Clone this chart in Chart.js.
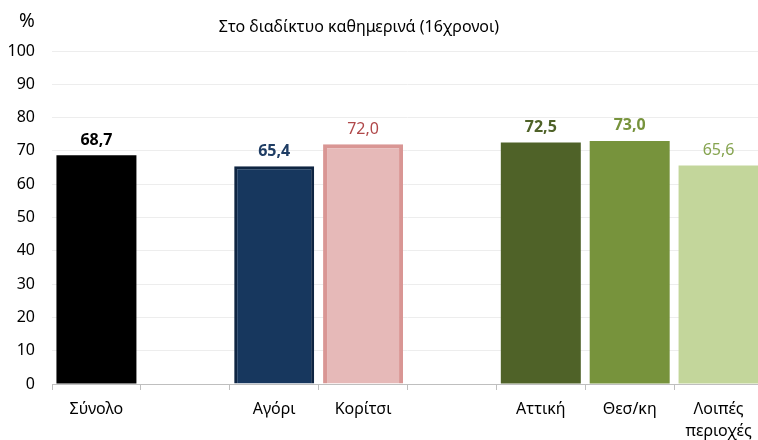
<!DOCTYPE html>
<html>
<head>
<meta charset="utf-8">
<script src="https://cdn.jsdelivr.net/npm/chart.js@4"></script>
<style>
  html, body { margin: 0; padding: 0; overflow: hidden; background: #fff; }
  #wrap { width: 763px; height: 440px; }
</style>
</head>
<body>
<div id="wrap"><canvas id="bar-chart" width="763" height="440"></canvas></div>
<script>
// Categories (empty strings are the gaps between groups)
const categories = ['Σύνολο', '', 'Αγόρι', 'Κορίτσι', '', 'Αττική', 'Θεσ/κη', ['Λοιπές', 'περιοχές']];
// Percent online daily (16 year olds)
const values = [68.7, null, 65.4, 72.0, null, 72.5, 73.0, 65.6];
const yTicks = [0, 10, 20, 30, 40, 50, 60, 70, 80, 90, 100];

const fillColors = ['#000000', null, '#17375e', '#e6b9b8', null, '#4f6228', '#77933c', '#c3d69b'];
const borderColors = ['#000000', null, '#0f2542', '#d99694', null, '#4f6228', '#77933c', '#c3d69b'];
const borderWidths = [0, 0, 3, 4, 0, 0, 0, 0];
const labelColors = ['#000000', null, '#1f3d64', '#b0484a', null, '#4f6228', '#77933c', '#86a450'];
const labelBold = [true, false, true, false, false, true, true, false];

const FONT = "'Noto Sans', 'Open Sans', sans-serif";

// value labels over the bars + title + % sign
const extras = {
    id: 'extras',
    afterDatasetsDraw(chart) {
        const ctx = chart.ctx;
        const meta = chart.getDatasetMeta(0);
        ctx.save();
        ctx.textAlign = 'center';
        ctx.textBaseline = 'middle';
        meta.data.forEach((bar, i) => {
            if (values[i] == null) return;
            ctx.font = (labelBold[i] ? 'bold ' : '') + '16px ' + FONT;
            ctx.fillStyle = labelColors[i];
            ctx.fillText(values[i].toFixed(1).replace('.', ','), bar.x, bar.y - 15);
        });
        ctx.font = '16px ' + FONT;
        ctx.fillStyle = '#000';
        ctx.fillText('Στο διαδίκτυο καθημερινά (16χρονοι)', 359, 27);
        ctx.font = '19px ' + FONT;
        ctx.fillText('%', 27, 22);
        ctx.restore();
    }
};

const ctx = document.getElementById('bar-chart').getContext('2d');
new Chart(ctx, {
    type: 'bar',
    data: {
        labels: categories,
        datasets: [{
            data: values,
            backgroundColor: fillColors,
            borderColor: borderColors,
            borderWidth: borderWidths,
            categoryPercentage: 0.9,
            barPercentage: 1.0
        }]
    },
    options: {
        responsive: false,
        animation: false,
        layout: { padding: { top: 51, right: 0, bottom: 0, left: 0 } },
        plugins: {
            legend: { display: false },
            tooltip: { enabled: false }
        },
        scales: {
            x: {
                offset: true,
                grid: {
                    offset: true,
                    drawOnChartArea: false,
                    drawTicks: true,
                    tickLength: 6,
                    color: '#bfbfbf'
                },
                border: { display: true, color: '#bfbfbf' },
                ticks: {
                    autoSkip: false,
                    maxRotation: 0,
                    padding: 9,
                    color: '#000',
                    font: { family: FONT, size: 16, lineHeight: 1.35 }
                },
                afterFit(scale) { scale.height = 56; }
            },
            y: {
                min: 0,
                max: 100,
                afterBuildTicks(scale) { scale.ticks = yTicks.map(v => ({ value: v })); },
                grid: { color: '#ededed', drawTicks: false },
                border: { display: false },
                ticks: {
                    padding: 17,
                    color: '#000',
                    font: { family: FONT, size: 16 }
                },
                afterFit(scale) { scale.width = 52; }
            }
        }
    },
    plugins: [extras]
});
</script>
</body>
</html>
